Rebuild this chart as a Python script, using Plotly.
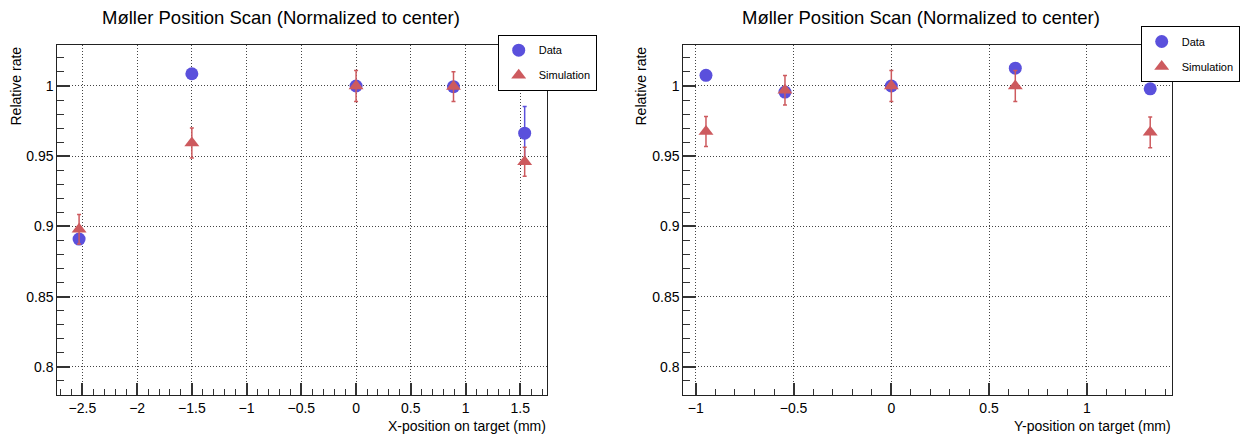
import plotly.graph_objects as go

# ---- data ----
x_scan_pos = [-2.53, -1.5, 0.0, 0.89, 1.54]
x_data = [0.891, 1.0087, 1.0, 0.9995, 0.9664]
x_data_err = [0.003, 0.003, 0.003, 0.003, 0.019]
x_sim = [0.898, 0.9594, 1.0, 0.9996, 0.946]
x_sim_err = [0.0105, 0.0107, 0.011, 0.0106, 0.0103]

y_scan_pos = [-0.948, -0.544, 0.0, 0.634, 1.324]
y_data = [1.0076, 0.9957, 1.0, 1.0127, 0.998]
y_data_err = [0.003, 0.003, 0.003, 0.003, 0.003]
y_sim = [0.9676, 0.997, 1.0, 1.0, 0.967]
y_sim_err = [0.0107, 0.0105, 0.011, 0.011, 0.011]

title_text = "Møller Position Scan (Normalized to center)"

W, H = 1249, 437
BLUE = "#5a50dc"
RED = "#cd5a5e"
AX = "#222222"
TK = "#333333"
FONT = "Liberation Sans, Arial, Helvetica, sans-serif"

fig = go.Figure()

def add_pair(xs, d, de, s, se, xa, ya, leg):
    fig.add_trace(go.Scatter(
        x=xs, y=d, mode="markers", name="Data",
        marker=dict(symbol="circle", size=13, color=BLUE),
        error_y=dict(type="data", array=de, color=BLUE, thickness=1.5, width=2),
        xaxis=xa, yaxis=ya, legend=leg, legendgroup=leg + "d"))
    fig.add_trace(go.Scatter(
        x=xs, y=s, mode="markers", name="Simulation",
        marker=dict(symbol="triangle-up", size=13, color=RED),
        error_y=dict(type="data", array=se, color=RED, thickness=1.5, width=2),
        xaxis=xa, yaxis=ya, legend=leg, legendgroup=leg + "s"))

add_pair(x_scan_pos, x_data, x_data_err, x_sim, x_sim_err, "x", "y", "legend")
add_pair(y_scan_pos, y_data, y_data_err, y_sim, y_sim_err, "x2", "y2", "legend2")

def px_x(p):
    return p / W

def px_y(p):
    return 1 - p / H

ydom = [px_y(395), px_y(44.7)]

def xaxis_def(dom, rng, anchor):
    return dict(
        domain=dom, range=rng, anchor=anchor,
        showline=True, linecolor=AX, linewidth=1, mirror=True,
        tickmode="linear", tick0=0, dtick=0.5,
        ticks="inside", ticklen=12, tickcolor=TK, tickwidth=1.5,
        minor=dict(ticks="inside", tickmode="linear", tick0=0, dtick=0.1,
                   ticklen=6, tickcolor=TK, tickwidth=1.2, showgrid=False),
        showgrid=True, gridcolor="#444", griddash="1px,2px", gridwidth=1,
        zeroline=False, tickfont=dict(family=FONT, size=14, color="black"),
    )

def yaxis_def(anchor):
    return dict(
        domain=ydom, range=[0.78, 1.0294], anchor=anchor,
        showline=True, linecolor=AX, linewidth=1, mirror=True,
        tickmode="linear", tick0=0, dtick=0.05,
        ticks="inside", ticklen=13, tickcolor=TK, tickwidth=1.5,
        minor=dict(ticks="inside", tickmode="linear", tick0=0, dtick=0.01,
                   ticklen=7, tickcolor=TK, tickwidth=1.2, showgrid=False),
        showgrid=True, gridcolor="#444", griddash="1px,2px", gridwidth=1,
        zeroline=False, tickfont=dict(family=FONT, size=14, color="black"),
    )

leg_common = dict(xanchor="left", yanchor="top", bordercolor="black", borderwidth=1,
                  bgcolor="white", font=dict(family=FONT, size=11),
                  tracegroupgap=6, traceorder="grouped", itemwidth=30)

fig.update_layout(
    width=W, height=H, margin=dict(l=0, r=0, t=0, b=0),
    paper_bgcolor="white", plot_bgcolor="white",
    font=dict(family=FONT, color="black"),
    xaxis=xaxis_def([px_x(57.3), px_x(547)], [-2.729, 1.744], "y"),
    yaxis=yaxis_def("x"),
    xaxis2=xaxis_def([px_x(683.3), px_x(1172.3)], [-1.064, 1.437], "y2"),
    yaxis2=yaxis_def("x2"),
    legend=dict(leg_common, x=px_x(497.7), y=px_y(34.7)),
    legend2=dict(leg_common, x=px_x(1140.7), y=px_y(26)),
    showlegend=True,
)

annotations = [
    dict(text=title_text, x=px_x(281), y=px_y(18), xref="paper", yref="paper",
         xanchor="center", yanchor="middle", showarrow=False,
         font=dict(family=FONT, size=18.5)),
    dict(text=title_text, x=px_x(921), y=px_y(18), xref="paper", yref="paper",
         xanchor="center", yanchor="middle", showarrow=False,
         font=dict(family=FONT, size=18.5)),
    dict(text="Relative rate", x=px_x(15), y=px_y(45), xref="paper", yref="paper",
         xanchor="center", yanchor="top", showarrow=False, textangle=-90,
         font=dict(family=FONT, size=14)),
    dict(text="Relative rate", x=px_x(640), y=px_y(45), xref="paper", yref="paper",
         xanchor="center", yanchor="top", showarrow=False, textangle=-90,
         font=dict(family=FONT, size=14)),
    dict(text="X-position on target (mm)", x=px_x(548), y=px_y(426), xref="paper",
         yref="paper", xanchor="right", yanchor="middle", showarrow=False,
         font=dict(family=FONT, size=14)),
    dict(text="Y-position on target (mm)", x=px_x(1173), y=px_y(426), xref="paper",
         yref="paper", xanchor="right", yanchor="middle", showarrow=False,
         font=dict(family=FONT, size=14)),
]
fig.update_layout(annotations=annotations)

fig.write_html("out.html")
